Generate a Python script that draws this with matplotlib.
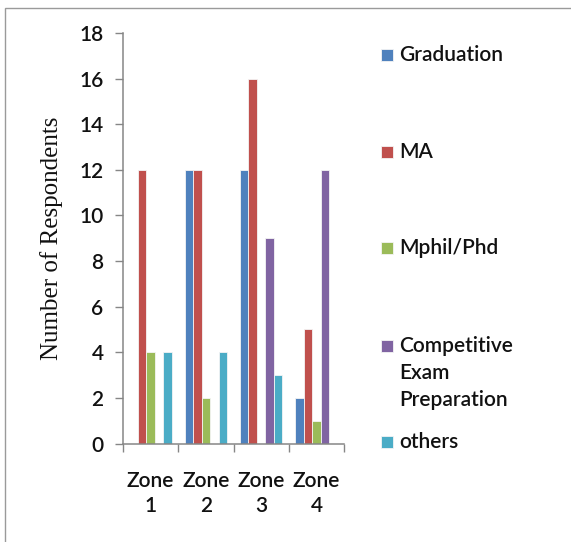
import matplotlib.pyplot as plt
import numpy as np
from matplotlib.patches import Rectangle

zones = ["Zone\n1", "Zone\n2", "Zone\n3", "Zone\n4"]
series = ["Graduation", "MA", "Mphil/Phd", "Competitive\nExam\nPreparation", "others"]
graduation = [0, 12, 12, 2]
ma = [12, 12, 16, 5]
mphil = [4, 2, 0, 1]
competitive = [0, 0, 9, 12]
others = [4, 4, 3, 0]
colors = ["#4F81BD", "#C0504D", "#9BBB59", "#8064A2", "#4BACC6"]

values = [graduation, ma, mphil, competitive, others]
font = dict(family="Lato", fontsize=15, fontweight="semibold", color="#111111")

fig = plt.figure(figsize=(5.71, 5.42), dpi=100)
ax = fig.add_axes([0.2154, 0.1817, 0.3871, 0.7574])

# outer chart frame
fig.patches.append(Rectangle((4.5 / 571, -0.1), 1.2, 1.1 - 7.6 / 542,
                             transform=fig.transFigure, fill=False,
                             edgecolor="#9a9a9a", linewidth=1.0))

x = np.arange(len(zones))
width = 1 / 6.5
for i, (vals, c) in enumerate(zip(values, colors)):
    ax.bar(x + (i - 2) * width, vals, width, color=c,
           edgecolor="#f4f4f4", linewidth=0.6, zorder=2)

ax.set_xlim(-0.5, 3.5)
ax.set_ylim(0, 18)
ax.set_yticks(np.arange(0, 19, 2))
ax.set_xticks(np.arange(-0.5, 4, 1))
ax.set_xticklabels([])
ax.set_xticks(x, minor=True)
ax.set_xticklabels(zones, minor=True, linespacing=1.3, **font)
ax.tick_params(axis="x", which="major", direction="out", length=6,
               color="#868686", width=1)
ax.tick_params(axis="x", which="minor", length=0, pad=20)
ax.tick_params(axis="y", direction="out", length=6, color="#868686",
               width=1, pad=8)
ax.set_yticklabels([str(v) for v in range(0, 19, 2)], **font)

for s in ["top", "right"]:
    ax.spines[s].set_visible(False)
for s in ["left", "bottom"]:
    ax.spines[s].set_color("#868686")
    ax.spines[s].set_linewidth(1.1)
    ax.spines[s].set_zorder(3)

ax.set_ylabel("Number of Respondents", family="Liberation Serif",
              fontsize=18, labelpad=12, color="#111111")

# legend entries stacked down the right side
legend_y = [55, 152, 248, 346, 442]
for name, c, yy in zip(series, colors, legend_y):
    fy = 1 - yy / 542
    fig.patches.append(Rectangle((381 / 571, fy - 6 / 542), 12 / 571, 12 / 542,
                                 transform=fig.transFigure, facecolor=c,
                                 edgecolor="#f4f4f4", linewidth=0.6))
    fig.text(399.5 / 571, fy + 10 / 542, name, va="top", ha="left",
             linespacing=1.45, **font)

fig.savefig("out.png", dpi=100)
